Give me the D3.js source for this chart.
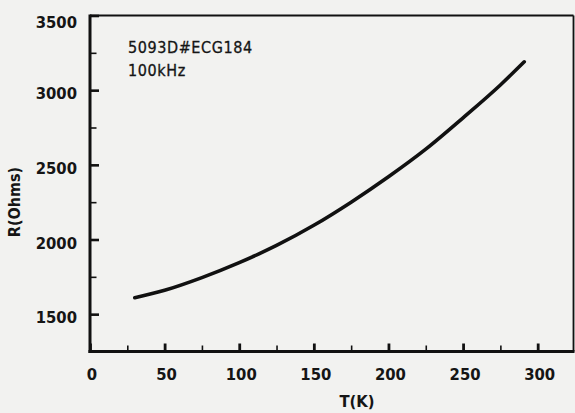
<!DOCTYPE html>
<html>
<head>
<meta charset="utf-8">
<script src="https://cdn.jsdelivr.net/npm/d3@7"></script>
<style>
  html, body { margin: 0; padding: 0; background: #f2f2f0; }
  svg { display: block; }
  text { font-family: "DejaVu Sans Condensed", "DejaVu Sans", sans-serif; fill: #151515; }
</style>
</head>
<body>
<svg id="chart" width="575" height="413"></svg>
<script>
// Resistance of sample 5093D (ECG184) versus temperature, measured at 100 kHz
const temperature = [30, 50, 75, 100, 125, 150, 175, 200, 225, 250, 275, 291];
const resistance  = [1610, 1660, 1745, 1845, 1960, 2095, 2250, 2420, 2605, 2815, 3035, 3190];

const xMajorTicks = [0, 50, 100, 150, 200, 250, 300];
const xMinorTicks = [25, 75, 125, 175, 225, 275];
const yMajorTicks = [1500, 2000, 2500, 3000, 3500];
const yMinorTicks = [1750, 2250, 2750, 3250];

const titleLines = ["5093D#ECG184", "100kHz"];
const xTitle = "T(K)";
const yTitle = "R(Ohms)";

const svg = d3.select("#chart");
const plotLeft = 90, plotRight = 573.5, plotTop = 15.5, plotBottom = 351.5;

const x = d3.scaleLinear().domain([0, 324]).range([plotLeft, plotRight]);
const y = d3.scaleLinear().domain([1250, 3500]).range([plotBottom, plotTop]);

const ink = "#111";

// frame: heavy left/bottom axes, lighter top/right border
svg.append("line").attr("x1", plotLeft).attr("x2", plotRight).attr("y1", plotTop).attr("y2", plotTop)
  .attr("stroke", ink).attr("stroke-width", 2);
svg.append("line").attr("x1", plotRight).attr("x2", plotRight).attr("y1", plotTop).attr("y2", plotBottom)
  .attr("stroke", ink).attr("stroke-width", 1.8);

// axes with inward ticks
const xAxisMajor = d3.axisTop(x).tickValues(xMajorTicks).tickSize(8).tickFormat("");
const xAxisMinor = d3.axisTop(x).tickValues(xMinorTicks).tickSize(6).tickFormat("");
const yAxisMajor = d3.axisRight(y).tickValues(yMajorTicks).tickSize(9).tickFormat("");
const yAxisMinor = d3.axisRight(y).tickValues(yMinorTicks).tickSize(6.5).tickFormat("");

function styleAxis(g, w) {
  g.select(".domain").remove();
  g.selectAll(".tick line").attr("stroke", ink).attr("stroke-width", w);
}

svg.append("g").attr("transform", `translate(0,${plotBottom})`).call(xAxisMajor).call(g => styleAxis(g, 2.8));
svg.append("g").attr("transform", `translate(0,${plotBottom})`).call(xAxisMinor).call(g => styleAxis(g, 1.6));
svg.append("g").attr("transform", `translate(${plotLeft},0)`).call(yAxisMajor).call(g => styleAxis(g, 2.6));
svg.append("g").attr("transform", `translate(${plotLeft},0)`).call(yAxisMinor).call(g => styleAxis(g, 1.6));

svg.append("line").attr("x1", plotLeft).attr("x2", plotLeft).attr("y1", plotTop - 1).attr("y2", plotBottom + 1.5)
  .attr("stroke", ink).attr("stroke-width", 3);
svg.append("line").attr("x1", plotLeft - 1.5).attr("x2", plotRight + 1).attr("y1", plotBottom).attr("y2", plotBottom)
  .attr("stroke", ink).attr("stroke-width", 3);

// tick labels
svg.append("g").selectAll("text").data(xMajorTicks).join("text")
  .attr("x", d => x(d) + 2)
  .attr("y", 380)
  .attr("text-anchor", "middle")
  .attr("font-size", 16.5).attr("font-weight", "bold")
  .text(d => d);

svg.append("g").selectAll("text").data(yMajorTicks).join("text")
  .attr("x", 77)
  .attr("y", d => y(d) + 9 + (d === 3500 ? 3 : 0))
  .attr("text-anchor", "end")
  .attr("font-size", 16.5).attr("font-weight", "bold")
  .text(d => d);

// axis titles
svg.append("text")
  .attr("x", 357).attr("y", 407)
  .attr("text-anchor", "middle")
  .attr("font-size", 16.5).attr("font-weight", "bold")
  .text(xTitle);

svg.append("text")
  .attr("transform", "translate(20,202) rotate(-90)")
  .attr("text-anchor", "middle")
  .attr("font-size", 16).attr("font-weight", "bold")
  .text(yTitle);

// annotation
svg.append("g").selectAll("text").data(titleLines).join("text")
  .attr("x", 128)
  .attr("y", (d, i) => 53 + i * 23)
  .attr("font-family", "DejaVu Sans, sans-serif")
  .attr("font-size", 16)
  .attr("letter-spacing", 0.6)
  .attr("stroke", "#151515").attr("stroke-width", 0.3)
  .text(d => d);

// resistance curve
const line = d3.line()
  .x((d, i) => x(temperature[i]))
  .y(d => y(d))
  .curve(d3.curveMonotoneX);

svg.append("path")
  .datum(resistance)
  .attr("d", line)
  .attr("fill", "none")
  .attr("stroke", ink)
  .attr("stroke-width", 3.6)
  .attr("stroke-linecap", "round");
</script>
</body>
</html>
